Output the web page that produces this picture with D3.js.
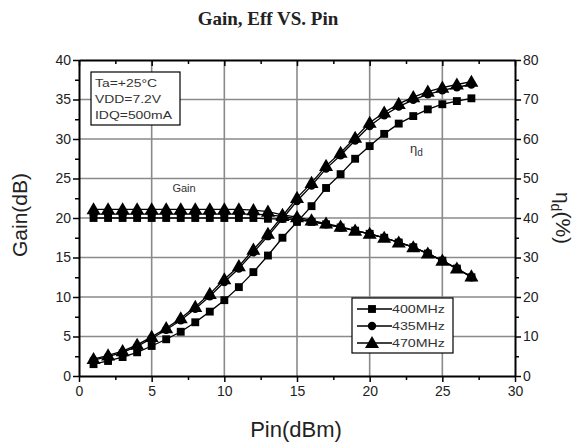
<!DOCTYPE html>
<html><head><meta charset="utf-8">
<script src="https://cdn.jsdelivr.net/npm/d3@7"></script>
<style>body{margin:0;background:#fff;}svg{display:block;}</style>
</head><body>
<script>
const pin = [1,2,3,4,5,6,7,8,9,10,11,12,13,14,15,16,17,18,19,20,21,22,23,24,25,26,27];
const seriesNames = ["400MHz","435MHz","470MHz"];
const gain400 = [20.0,20.0,20.0,20.0,20.0,20.0,20.0,20.0,20.0,20.0,20.0,20.0,19.9,19.9,19.8,19.5,19.2,18.8,18.4,18.0,17.5,16.9,16.3,15.5,14.6,13.6,12.5];
const gain435 = [20.5,20.5,20.5,20.5,20.5,20.5,20.5,20.5,20.5,20.5,20.5,20.5,20.4,20.2,19.9,19.6,19.2,18.8,18.4,18.0,17.5,16.9,16.3,15.5,14.6,13.6,12.5];
const gain470 = [21.1,21.1,21.1,21.1,21.1,21.1,21.1,21.1,21.1,21.1,21.1,21.0,20.8,20.4,20.1,19.7,19.3,18.9,18.4,18.0,17.5,16.9,16.3,15.5,14.6,13.6,12.6];
const eff400 = [3.0,3.8,4.8,6.0,7.6,9.3,11.2,13.6,16.3,19.2,22.5,26.3,30.5,35.0,39.0,43.0,47.6,51.1,55.0,58.2,61.3,63.9,65.8,67.5,68.8,69.6,70.3];
const eff435 = [4.0,4.9,6.0,7.5,9.5,11.7,14.1,17.0,20.2,23.8,27.2,31.3,35.4,39.8,44.3,48.2,52.5,55.9,59.6,63.3,66.0,68.2,69.9,71.3,72.3,73.1,73.8];
const eff470 = [4.3,5.2,6.3,7.9,9.9,12.1,14.6,17.5,20.8,24.5,27.8,32.0,36.0,40.5,45.1,48.9,53.2,56.5,60.3,64.1,66.7,68.9,70.6,72.0,73.0,73.8,74.5];
const xTicks = [0,5,10,15,20,25,30];
const yLeftTicks = [0,5,10,15,20,25,30,35,40];
const yRightTicks = [0,10,20,30,40,50,60,70,80];
const notes = ["Ta=+25\u00B0C","VDD=7.2V","IDQ=500mA"];

const W = 585, H = 442;
const L = 79, R = 515, T = 60, B = 376;
const svg = d3.select("body").append("svg").attr("width", W).attr("height", H);

const x = d3.scaleLinear().domain([0,30]).range([L,R]);
const yL = d3.scaleLinear().domain([0,40]).range([B,T]);
const yR = d3.scaleLinear().domain([0,80]).range([B,T]);

// grid
const g = svg.append("g");
xTicks.slice(1,-1).forEach(v => g.append("line").attr("x1",x(v)).attr("x2",x(v)).attr("y1",T).attr("y2",B).attr("stroke","#8a8a8a").attr("stroke-width",1.6));
yLeftTicks.slice(1,-1).forEach(v => g.append("line").attr("x1",L).attr("x2",R).attr("y1",yL(v)).attr("y2",yL(v)).attr("stroke","#8a8a8a").attr("stroke-width",1.6));

// axes
const font = "'Liberation Sans', Arial, sans-serif";
function styleAxis(sel){
  sel.select(".domain").attr("stroke","#000").attr("stroke-width",2);
  sel.selectAll(".tick line").attr("stroke","#000").attr("stroke-width",1.5);
  sel.selectAll("text").attr("font-family",font).attr("font-size",14).attr("fill","#222");
}
const minorX = d3.range(0,30.01,2.5);
const minorY = d3.range(0,40.01,2.5);
const minorYR = d3.range(0,80.01,5);

const xAx = svg.append("g").attr("transform",`translate(0,${B})`)
  .call(d3.axisBottom(x).tickValues(minorX).tickSize(5).tickSizeOuter(0).tickFormat(d => xTicks.includes(d) ? d : ""));
styleAxis(xAx);
xAx.selectAll(".tick line").attr("y2", d => xTicks.includes(d) ? 6 : 4);
xAx.selectAll("text").attr("dy","0.85em");

const xTop = svg.append("g").attr("transform",`translate(0,${T})`)
  .call(d3.axisBottom(x).tickValues(minorX).tickSize(5).tickSizeOuter(0).tickFormat(""));
styleAxis(xTop);
xTop.selectAll(".tick line").attr("y2", d => xTicks.includes(d) ? 6 : 4);

const yAx = svg.append("g").attr("transform",`translate(${L},0)`)
  .call(d3.axisLeft(yL).tickValues(minorY).tickSize(5).tickSizeOuter(0).tickFormat(d => yLeftTicks.includes(d) ? d : ""));
styleAxis(yAx);
yAx.selectAll(".tick line").attr("x2", d => yLeftTicks.includes(d) ? -6 : -4);

const yAxR = svg.append("g").attr("transform",`translate(${R},0)`)
  .call(d3.axisRight(yR).tickValues(minorYR).tickSize(5).tickSizeOuter(0).tickFormat(d => yRightTicks.includes(d) ? d : ""));
styleAxis(yAxR);
yAxR.selectAll(".tick line").attr("x2", d => yRightTicks.includes(d) ? 6 : 4);

// titles
svg.append("text").attr("x",268).attr("y",25).attr("text-anchor","middle")
  .attr("font-family","'Liberation Serif', 'Times New Roman', serif").attr("font-weight","bold").attr("font-size",19).attr("fill","#222")
  .text("Gain, Eff VS. Pin");
svg.append("text").attr("x",296).attr("y",437).attr("text-anchor","middle")
  .attr("font-family",font).attr("font-size",22).attr("fill","#222").text("Pin(dBm)");
svg.append("text").attr("transform",`translate(27,215) rotate(-90)`).attr("text-anchor","middle")
  .attr("font-family",font).attr("font-size",21).attr("fill","#222").text("Gain(dB)");
const rt = svg.append("text").attr("transform",`translate(556,218) rotate(90)`).attr("text-anchor","middle")
  .attr("font-family",font).attr("font-size",21).attr("fill","#222");
rt.append("tspan").text("\u03B7");
rt.append("tspan").attr("font-size",14).attr("dy",5).text("d");
rt.append("tspan").attr("dy",-5).text("(%)");

// data series
const symbols = [d3.symbolSquare, d3.symbolCircle, d3.symbolTriangle];
const symSizes = [62, 55, 85];
const gainSets = [gain400, gain435, gain470];
const effSets = [eff400, eff435, eff470];
const line = d3.line();

function drawSeries(vals, yScale, si){
  const pts = pin.map((p,i) => [x(p), yScale(vals[i])]);
  svg.append("path").attr("d", line(pts)).attr("fill","none").attr("stroke","#000").attr("stroke-width",1.3);
  svg.append("g").selectAll("path").data(pts).join("path")
    .attr("transform", d => `translate(${d[0]},${d[1] + (si===2 ? 1 : 0)})`)
    .attr("d", d3.symbol().type(symbols[si]).size(symSizes[si])())
    .attr("fill","#000");
}
[0,1,2].forEach(si => { drawSeries(gainSets[si], yL, si); drawSeries(effSets[si], yR, si); });

// curve labels
svg.append("text").attr("x",184).attr("y",192).attr("text-anchor","middle")
  .attr("font-family",font).attr("font-size",11).attr("fill","#333").text("Gain");
const et = svg.append("text").attr("x",410).attr("y",153).attr("font-family",font).attr("font-size",13).attr("fill","#333");
et.append("tspan").text("\u03B7");
et.append("tspan").attr("font-size",10).attr("dy",3).text("d");

// note box
svg.append("rect").attr("x",91).attr("y",72).attr("width",89).attr("height",53).attr("fill","#fff").attr("stroke","#000").attr("stroke-width",1.2);
notes.forEach((t,i) => svg.append("text").attr("x",95).attr("y",87 + i*16).attr("font-family",font).attr("font-size",11.5).attr("fill","#333")
  .attr("textLength", [62,66,77][i]).attr("lengthAdjust","spacingAndGlyphs").text(t));

// legend
svg.append("rect").attr("x",352).attr("y",298).attr("width",101).attr("height",55).attr("fill","#fff").attr("stroke","#000").attr("stroke-width",1.2);
seriesNames.forEach((n,i) => {
  const ly = 309 + i*17;
  svg.append("line").attr("x1",357).attr("x2",392).attr("y1",ly).attr("y2",ly).attr("stroke","#000").attr("stroke-width",1.3);
  svg.append("path").attr("transform",`translate(372,${ly + (i===2?1:0)})`).attr("d", d3.symbol().type(symbols[i]).size(symSizes[i])()).attr("fill","#000");
  svg.append("text").attr("x",392).attr("y",ly+4).attr("font-family",font).attr("font-size",11).attr("fill","#333")
    .attr("textLength",53).attr("lengthAdjust","spacingAndGlyphs").text(n);
});
</script>
</body></html>
